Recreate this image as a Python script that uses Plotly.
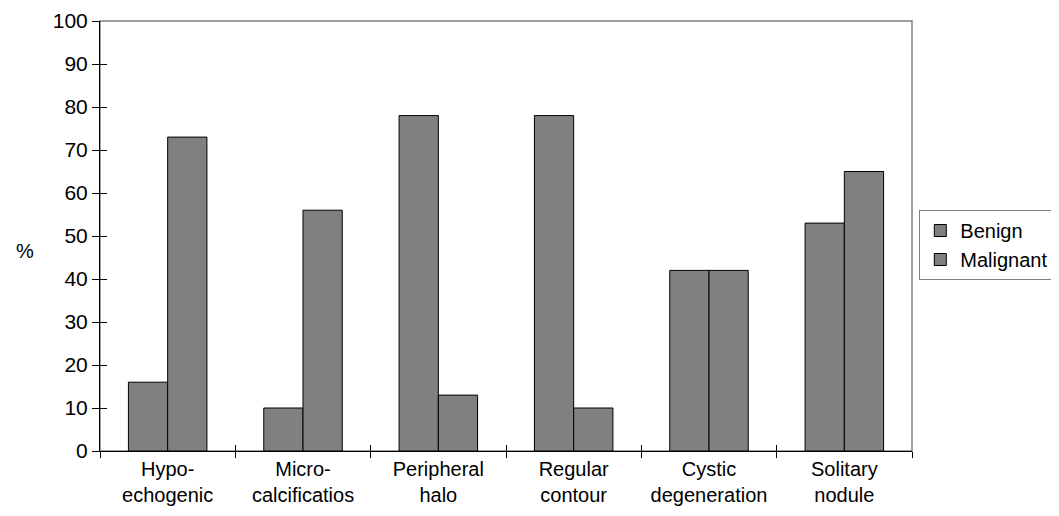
import plotly.graph_objects as go

categories = ["Hypo-<br>echogenic", "Micro-<br>calcificatios", "Peripheral<br>halo",
              "Regular<br>contour", "Cystic<br>degeneration", "Solitary<br>nodule"]
benign = [16, 10, 78, 78, 42, 53]
malignant = [73, 56, 13, 10, 42, 65]
y_ticks = list(range(0, 101, 10))

FONT = "Liberation Sans, Arial, sans-serif"
fig = go.Figure()
fig.add_trace(go.Bar(name="Benign", x=categories, y=benign,
                     marker=dict(color="#808080", line=dict(color="black", width=1))))
fig.add_trace(go.Bar(name="Malignant", x=categories, y=malignant,
                     marker=dict(color="#808080", line=dict(color="black", width=1))))

fig.update_layout(
    width=1051, height=508,
    margin=dict(l=92, r=147, t=13, b=65, autoexpand=False),
    paper_bgcolor="white", plot_bgcolor="white",
    font=dict(family=FONT, size=20, color="black"),
    barmode="group", bargap=0.42, bargroupgap=0,
    showlegend=True,
    legend=dict(x=1.009, y=0.479, xanchor="left", yanchor="middle",
                bordercolor="#808080", borderwidth=1, bgcolor="white",
                font=dict(size=20), itemwidth=30, tracegroupgap=0),
    xaxis=dict(type="category", showline=True, linecolor="black", linewidth=1,
               ticks="outside", ticklen=6, tickcolor="black", tickson="boundaries",
               showgrid=False, tickfont=dict(size=20), automargin=False,
               ticklabeloverflow="allow"),
    xaxis2=dict(type="category", overlaying="x", matches="x", showline=False,
                ticks="inside", ticklen=6, tickcolor="black", tickson="boundaries",
                showticklabels=False, showgrid=False, side="bottom"),
    yaxis=dict(range=[0, 100], tickvals=y_ticks, showline=True, linecolor="black",
               linewidth=1, ticks="outside", ticklen=7, tickcolor="black",
               showgrid=False, zeroline=False, tickfont=dict(size=21), automargin=False,
               ticklabeloverflow="allow"),
    yaxis2=dict(range=[0, 100], tickvals=y_ticks, overlaying="y", showline=False,
                ticks="inside", ticklen=7, tickcolor="black", showticklabels=False,
                showgrid=False, zeroline=False),
    shapes=[dict(type="rect", xref="paper", yref="paper", x0=0, x1=1, y0=0, y1=1,
                 line=dict(color="#808080", width=1.5), layer="below")],
    annotations=[dict(text="%", xref="paper", yref="paper", x=-0.106, y=0.464,
                      xanchor="left", yanchor="middle", showarrow=False,
                      font=dict(size=20))],
)
# invisible trace to activate overlay axes
fig.add_trace(go.Scatter(x=categories, y=benign, xaxis="x2", yaxis="y2",
                         mode="markers", marker=dict(opacity=0), showlegend=False,
                         hoverinfo="skip"))
fig.write_html("out.html")
